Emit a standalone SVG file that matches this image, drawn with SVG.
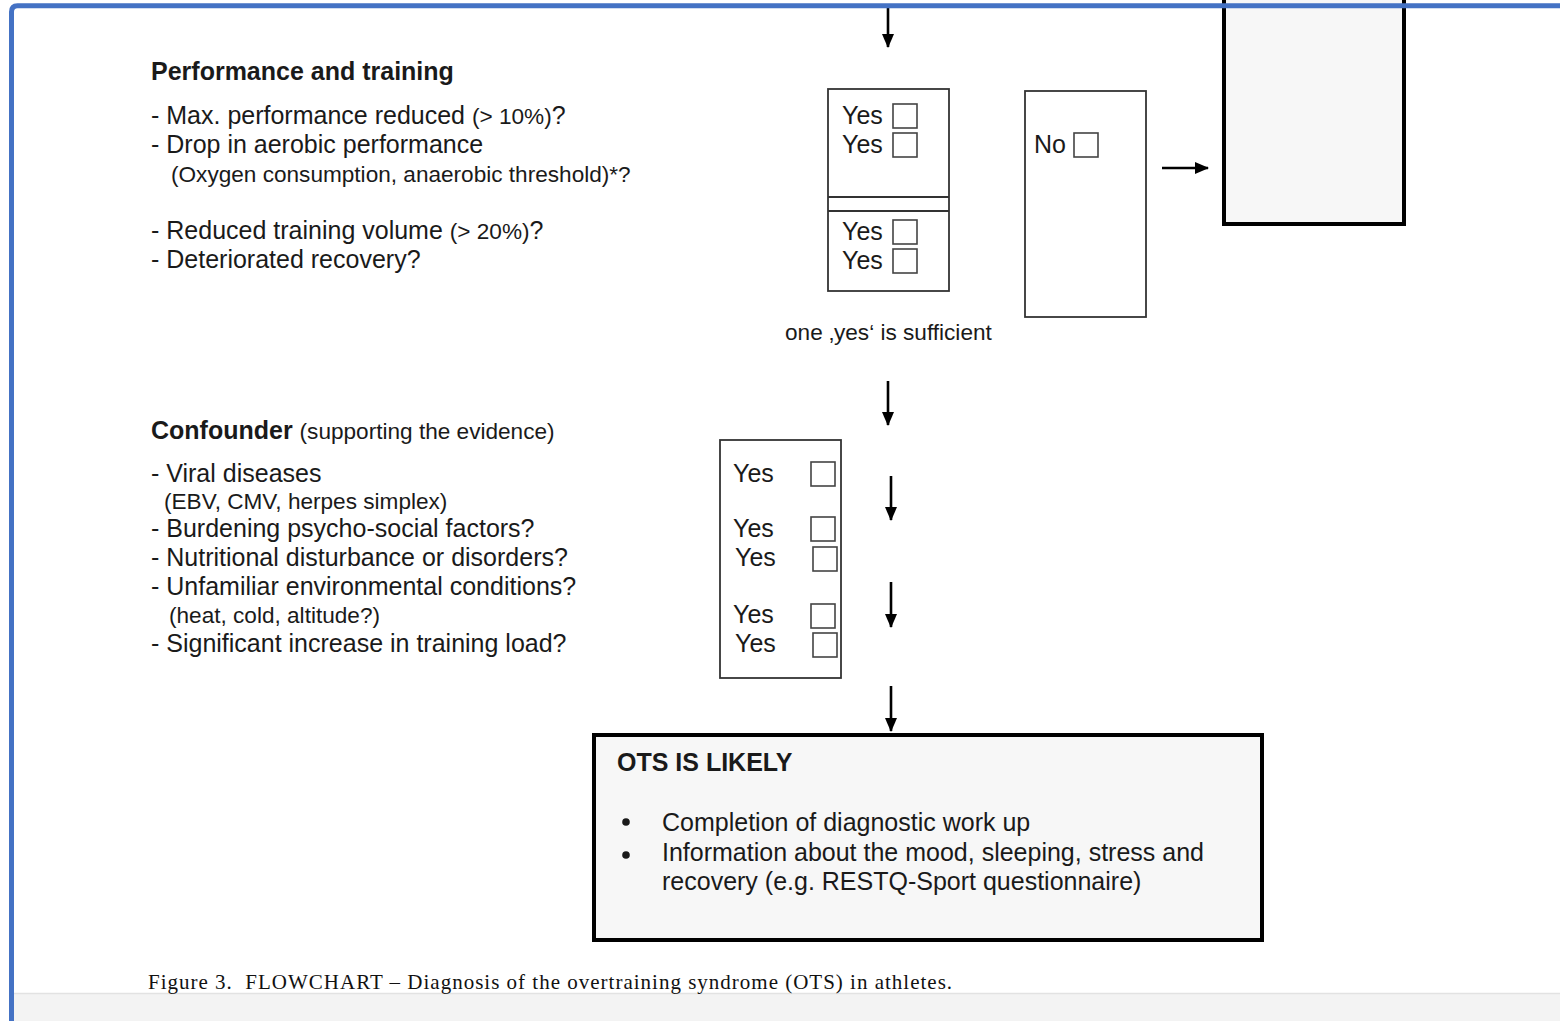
<svg xmlns="http://www.w3.org/2000/svg" width="1560" height="1021" viewBox="0 0 1560 1021">
<defs>
<style>
.t{font-family:"Liberation Sans",Arial,sans-serif;font-size:25px;fill:#1a1a1a}
.s{font-size:22.6px}
.b{font-weight:bold}
.box{fill:#fff;stroke:#333;stroke-width:1.8}
.cb{fill:#fff;stroke:#444;stroke-width:1.6}
.thick{fill:#f7f7f7;stroke:#000;stroke-width:4}
.con{stroke:#000;stroke-width:2.6;fill:none}
</style>
<marker id="ah" viewBox="0 0 14 12" refX="13" refY="6" markerWidth="14" markerHeight="12" orient="auto" markerUnits="userSpaceOnUse">
<path d="M0,0 L14,6 L0,12 z" fill="#000"/>
</marker>
</defs>
<rect width="1560" height="1021" fill="#fff"/>
<rect x="14" y="993" width="1546" height="28" fill="#f3f3f3"/>
<line x1="14" y1="993.5" x2="1560" y2="993.5" stroke="#e2e2e2" stroke-width="1.5"/>

<g id="performance-text">
<text class="t b" x="151" y="80">Performance and training</text>
<text class="t" x="151" y="124">- Max. performance reduced <tspan class="s">(&gt; 10%)</tspan>?</text>
<text class="t" x="151" y="153">- Drop in aerobic performance</text>
<text class="t s" x="171" y="182">(Oxygen consumption, anaerobic threshold)*?</text>
<text class="t" x="151" y="239">- Reduced training volume <tspan class="s">(&gt; 20%)</tspan>?</text>
<text class="t" x="151" y="268">- Deteriorated recovery?</text>
</g>

<g id="yes-box-1">
<rect class="box" x="828" y="89" width="121" height="202"/>
<line x1="828" y1="197" x2="949" y2="197" stroke="#333" stroke-width="2"/>
<line x1="828" y1="211" x2="949" y2="211" stroke="#333" stroke-width="2"/>
<text class="t" x="842" y="124">Yes</text>
<rect class="cb" x="893" y="104" width="24" height="24"/>
<text class="t" x="842" y="153">Yes</text>
<rect class="cb" x="893" y="133" width="24" height="24"/>
<text class="t" x="842" y="240">Yes</text>
<rect class="cb" x="893" y="220" width="24" height="24"/>
<text class="t" x="842" y="269">Yes</text>
<rect class="cb" x="893" y="249" width="24" height="24"/>
</g>

<g id="no-box">
<rect class="box" x="1025" y="91" width="121" height="226"/>
<text class="t" x="1034" y="153">No</text>
<rect class="cb" x="1074" y="133" width="24" height="24"/>
</g>

<g id="right-box">
<rect class="thick" x="1224" y="-10" width="180" height="234"/>
</g>

<g id="note">
<text class="t s" x="785" y="340">one ‚yes‘ is sufficient</text>
</g>

<g id="confounder-text">
<text class="t" x="151" y="439"><tspan class="b">Confounder</tspan> <tspan class="s">(supporting the evidence)</tspan></text>
<text class="t" x="151" y="482">- Viral diseases</text>
<text class="t s" x="164" y="509">(EBV, CMV, herpes simplex)</text>
<text class="t" x="151" y="537">- Burdening psycho-social factors?</text>
<text class="t" x="151" y="566">- Nutritional disturbance or disorders?</text>
<text class="t" x="151" y="595">- Unfamiliar environmental conditions?</text>
<text class="t s" x="169" y="623">(heat, cold, altitude?)</text>
<text class="t" x="151" y="652">- Significant increase in training load?</text>
</g>

<g id="yes-box-2">
<rect class="box" x="720" y="440" width="121" height="238"/>
<text class="t" x="733" y="482">Yes</text>
<rect class="cb" x="811" y="462" width="24" height="24"/>
<text class="t" x="733" y="537">Yes</text>
<rect class="cb" x="811" y="517" width="24" height="24"/>
<text class="t" x="735" y="566">Yes</text>
<rect class="cb" x="813" y="547" width="24" height="24"/>
<text class="t" x="733" y="623">Yes</text>
<rect class="cb" x="811" y="604" width="24" height="24"/>
<text class="t" x="735" y="652">Yes</text>
<rect class="cb" x="813" y="633" width="24" height="24"/>
</g>

<g id="ots-box">
<rect class="thick" x="594" y="735" width="668" height="205"/>
<text class="t b" x="617" y="771">OTS IS LIKELY</text>
<circle cx="626" cy="822" r="3.8" fill="#1a1a1a"/>
<text class="t" x="662" y="831">Completion of diagnostic work up</text>
<circle cx="626" cy="855" r="3.8" fill="#1a1a1a"/>
<text class="t" x="662" y="861">Information about the mood, sleeping, stress and</text>
<text class="t" x="662" y="890">recovery (e.g. RESTQ-Sport questionnaire)</text>
</g>

<g id="connectors">
<line class="con" x1="888" y1="8" x2="888" y2="47" marker-end="url(#ah)"/>
<line class="con" x1="1162" y1="168" x2="1208" y2="168" marker-end="url(#ah)"/>
<line class="con" x1="888" y1="381" x2="888" y2="425" marker-end="url(#ah)"/>
<line class="con" x1="891" y1="476" x2="891" y2="520" marker-end="url(#ah)"/>
<line class="con" x1="891" y1="582" x2="891" y2="627" marker-end="url(#ah)"/>
<line class="con" x1="891" y1="686" x2="891" y2="731" marker-end="url(#ah)"/>
</g>

<g id="caption">
<text x="148" y="989" font-family="'Liberation Serif','Times New Roman',serif" font-size="21" letter-spacing="1" fill="#111" xml:space="preserve">Figure 3.  FLOWCHART – Diagnosis of the overtraining syndrome (OTS) in athletes.</text>
</g>

<path d="M11.5 1021 V12 Q11.5 5.8 17.5 5.8 H1560" fill="none" stroke="#4472c4" stroke-width="5"/>
</svg>
